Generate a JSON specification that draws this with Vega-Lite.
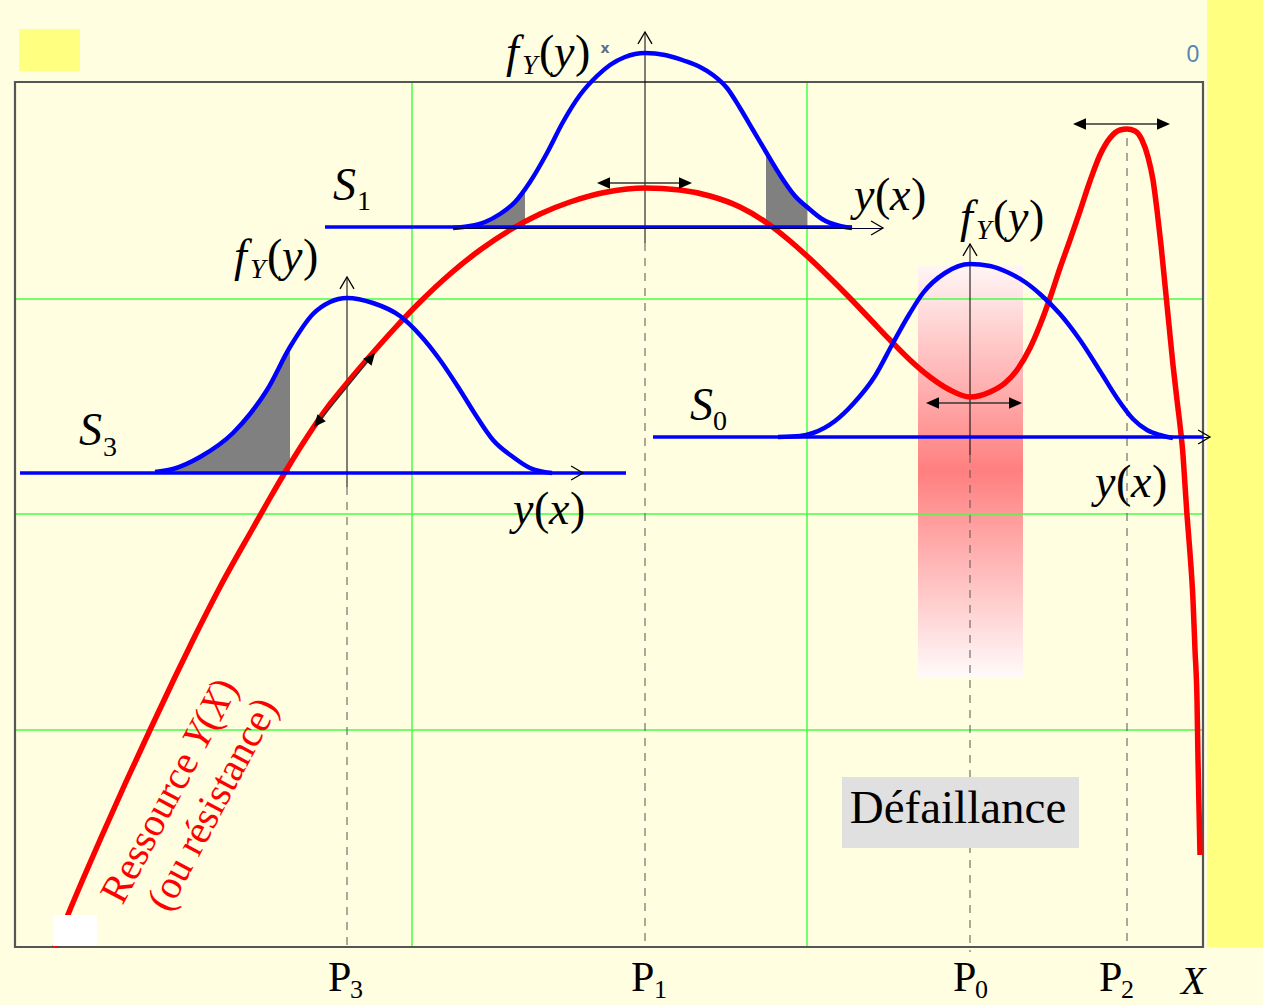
{
  "$schema": "https://vega.github.io/schema/vega-lite/v6.json",
  "width": 1263,
  "height": 1005,
  "padding": 0,
  "autosize": {"type": "none"},
  "background": "#FFFEE1",
  "config": {"view": {"stroke": null}},
  "datasets": {
    "boxes": [
      {"kind": "strip", "x": 1207, "x2": 1263, "y": 0, "y2": 947},
      {"kind": "swatch", "x": 19, "x2": 80, "y": 29, "y2": 71},
      {"kind": "risk", "x": 918, "x2": 1023, "y": 265, "y2": 677},
      {"kind": "frame", "x": 15, "x2": 1203, "y": 82, "y2": 947},
      {"kind": "blank", "x": 53, "x2": 97, "y": 915, "y2": 946},
      {"kind": "tag", "x": 842, "x2": 1079, "y": 777, "y2": 848}
    ],
    "rules": [
      {"kind": "grid", "x": 15, "x2": 1203, "y": 299, "y2": 299},
      {"kind": "grid", "x": 15, "x2": 1203, "y": 514, "y2": 514},
      {"kind": "grid", "x": 15, "x2": 1203, "y": 730, "y2": 730},
      {"kind": "grid", "x": 412, "x2": 412, "y": 82, "y2": 947},
      {"kind": "grid", "x": 807, "x2": 807, "y": 82, "y2": 947},
      {"kind": "guide", "x": 347, "x2": 347, "y": 487, "y2": 947},
      {"kind": "guide", "x": 645, "x2": 645, "y": 243, "y2": 947},
      {"kind": "guide", "x": 970, "x2": 970, "y": 455, "y2": 952},
      {"kind": "guide", "x": 1127, "x2": 1127, "y": 138, "y2": 947},
      {"kind": "axis", "x": 347, "x2": 347, "y": 277, "y2": 487},
      {"kind": "axis", "x": 645, "x2": 645, "y": 32, "y2": 243},
      {"kind": "axis", "x": 970, "x2": 970, "y": 244, "y2": 455},
      {"kind": "base", "x": 325, "x2": 852, "y": 227, "y2": 227},
      {"kind": "base", "x": 20, "x2": 626, "y": 473, "y2": 473},
      {"kind": "base", "x": 653, "x2": 1203, "y": 437, "y2": 437},
      {"kind": "yaxis", "x": 453, "x2": 883, "y": 228.5, "y2": 228.5},
      {"kind": "yaxis", "x": 778, "x2": 1210, "y": 437.5, "y2": 437.5},
      {"kind": "span", "x": 600, "x2": 689, "y": 183, "y2": 183},
      {"kind": "span", "x": 1076, "x2": 1167, "y": 124, "y2": 124},
      {"kind": "span", "x": 929, "x2": 1019, "y": 403, "y2": 403},
      {"kind": "span", "x": 316, "x2": 373, "y": 425, "y2": 355}
    ],
    "resource": [
      {"x": 55, "y": 947}, {"x": 67, "y": 917}, {"x": 83, "y": 879}, {"x": 100, "y": 840},
      {"x": 125, "y": 784}, {"x": 150, "y": 730}, {"x": 175, "y": 677}, {"x": 193, "y": 640},
      {"x": 220, "y": 587}, {"x": 253, "y": 528}, {"x": 270, "y": 498}, {"x": 287, "y": 469},
      {"x": 313, "y": 428}, {"x": 330, "y": 404}, {"x": 347, "y": 383}, {"x": 370, "y": 356},
      {"x": 395, "y": 328}, {"x": 420, "y": 302}, {"x": 450, "y": 274}, {"x": 480, "y": 250},
      {"x": 510, "y": 230}, {"x": 540, "y": 214}, {"x": 570, "y": 202}, {"x": 607, "y": 192},
      {"x": 645, "y": 188}, {"x": 680, "y": 190}, {"x": 710, "y": 196}, {"x": 740, "y": 207},
      {"x": 767, "y": 223}, {"x": 790, "y": 241}, {"x": 807, "y": 256}, {"x": 830, "y": 278},
      {"x": 847, "y": 295}, {"x": 870, "y": 319}, {"x": 890, "y": 340}, {"x": 910, "y": 360},
      {"x": 930, "y": 377}, {"x": 950, "y": 390}, {"x": 970, "y": 397}, {"x": 990, "y": 392},
      {"x": 1005, "y": 383}, {"x": 1017, "y": 370}, {"x": 1030, "y": 348}, {"x": 1040, "y": 325},
      {"x": 1050, "y": 298}, {"x": 1060, "y": 268}, {"x": 1070, "y": 240}, {"x": 1080, "y": 211},
      {"x": 1090, "y": 181}, {"x": 1100, "y": 155}, {"x": 1110, "y": 138}, {"x": 1120, "y": 130},
      {"x": 1127, "y": 129}, {"x": 1135, "y": 131}, {"x": 1142, "y": 140}, {"x": 1148, "y": 157},
      {"x": 1153, "y": 180}, {"x": 1157, "y": 210}, {"x": 1161, "y": 245}, {"x": 1165, "y": 285},
      {"x": 1169, "y": 325}, {"x": 1173, "y": 365}, {"x": 1177, "y": 400}, {"x": 1180, "y": 425},
      {"x": 1183, "y": 455}, {"x": 1185, "y": 485}, {"x": 1187, "y": 515}, {"x": 1190, "y": 553},
      {"x": 1193, "y": 600}, {"x": 1195, "y": 650}, {"x": 1197, "y": 700}, {"x": 1198, "y": 760},
      {"x": 1200, "y": 855}
    ],
    "densities": [
      {"id": "S1", "x": 453, "y": 228}, {"id": "S1", "x": 470, "y": 226}, {"id": "S1", "x": 485, "y": 222},
      {"id": "S1", "x": 500, "y": 214}, {"id": "S1", "x": 515, "y": 202}, {"id": "S1", "x": 530, "y": 182},
      {"id": "S1", "x": 547, "y": 153}, {"id": "S1", "x": 563, "y": 122}, {"id": "S1", "x": 580, "y": 95},
      {"id": "S1", "x": 597, "y": 76}, {"id": "S1", "x": 610, "y": 65}, {"id": "S1", "x": 625, "y": 57},
      {"id": "S1", "x": 645, "y": 53}, {"id": "S1", "x": 665, "y": 55}, {"id": "S1", "x": 685, "y": 61},
      {"id": "S1", "x": 700, "y": 67}, {"id": "S1", "x": 713, "y": 75}, {"id": "S1", "x": 727, "y": 88},
      {"id": "S1", "x": 740, "y": 108}, {"id": "S1", "x": 753, "y": 130}, {"id": "S1", "x": 766, "y": 152},
      {"id": "S1", "x": 780, "y": 175}, {"id": "S1", "x": 795, "y": 196}, {"id": "S1", "x": 807, "y": 207},
      {"id": "S1", "x": 822, "y": 219}, {"id": "S1", "x": 840, "y": 226}, {"id": "S1", "x": 852, "y": 228},
      {"id": "S3", "x": 155, "y": 472}, {"id": "S3", "x": 173, "y": 469}, {"id": "S3", "x": 200, "y": 457},
      {"id": "S3", "x": 233, "y": 433}, {"id": "S3", "x": 250, "y": 414}, {"id": "S3", "x": 267, "y": 390},
      {"id": "S3", "x": 290, "y": 347}, {"id": "S3", "x": 313, "y": 314}, {"id": "S3", "x": 330, "y": 302},
      {"id": "S3", "x": 347, "y": 298}, {"id": "S3", "x": 373, "y": 303}, {"id": "S3", "x": 400, "y": 316},
      {"id": "S3", "x": 420, "y": 335}, {"id": "S3", "x": 440, "y": 360}, {"id": "S3", "x": 460, "y": 390},
      {"id": "S3", "x": 475, "y": 414}, {"id": "S3", "x": 493, "y": 440}, {"id": "S3", "x": 513, "y": 457},
      {"id": "S3", "x": 530, "y": 468}, {"id": "S3", "x": 552, "y": 473},
      {"id": "S0", "x": 778, "y": 437}, {"id": "S0", "x": 800, "y": 436}, {"id": "S0", "x": 813, "y": 433},
      {"id": "S0", "x": 835, "y": 421}, {"id": "S0", "x": 853, "y": 404}, {"id": "S0", "x": 875, "y": 376},
      {"id": "S0", "x": 893, "y": 343}, {"id": "S0", "x": 910, "y": 313}, {"id": "S0", "x": 923, "y": 293},
      {"id": "S0", "x": 945, "y": 273}, {"id": "S0", "x": 970, "y": 264}, {"id": "S0", "x": 990, "y": 266},
      {"id": "S0", "x": 1007, "y": 272}, {"id": "S0", "x": 1025, "y": 282}, {"id": "S0", "x": 1040, "y": 294},
      {"id": "S0", "x": 1060, "y": 314}, {"id": "S0", "x": 1080, "y": 340}, {"id": "S0", "x": 1100, "y": 371},
      {"id": "S0", "x": 1117, "y": 398}, {"id": "S0", "x": 1133, "y": 419}, {"id": "S0", "x": 1147, "y": 430},
      {"id": "S0", "x": 1160, "y": 435}, {"id": "S0", "x": 1173, "y": 438}
    ],
    "tails": [
      {"id": "S1 bas", "x": 455, "y": 228, "y2": 227}, {"id": "S1 bas", "x": 470, "y": 226, "y2": 227},
      {"id": "S1 bas", "x": 485, "y": 222, "y2": 227}, {"id": "S1 bas", "x": 500, "y": 214, "y2": 227},
      {"id": "S1 bas", "x": 515, "y": 202, "y2": 227}, {"id": "S1 bas", "x": 525, "y": 189, "y2": 227},
      {"id": "S1 haut", "x": 766, "y": 152, "y2": 227}, {"id": "S1 haut", "x": 780, "y": 175, "y2": 227},
      {"id": "S1 haut", "x": 795, "y": 196, "y2": 227}, {"id": "S1 haut", "x": 807, "y": 207, "y2": 227},
      {"id": "S3 bas", "x": 157, "y": 472, "y2": 473}, {"id": "S3 bas", "x": 173, "y": 469, "y2": 473},
      {"id": "S3 bas", "x": 200, "y": 457, "y2": 473}, {"id": "S3 bas", "x": 233, "y": 433, "y2": 473},
      {"id": "S3 bas", "x": 250, "y": 414, "y2": 473}, {"id": "S3 bas", "x": 267, "y": 390, "y2": 473},
      {"id": "S3 bas", "x": 290, "y": 347, "y2": 473}
    ],
    "heads": [
      {"dir": "up", "x": 645, "y": 32}, {"dir": "up", "x": 347, "y": 277}, {"dir": "up", "x": 970, "y": 244},
      {"dir": "right", "x": 883, "y": 228}, {"dir": "right", "x": 583, "y": 473}, {"dir": "right", "x": 1210, "y": 437}
    ],
    "tips": [
      {"dir": "right", "x": 692, "y": 183}, {"dir": "left", "x": 597, "y": 183},
      {"dir": "right", "x": 1170, "y": 124}, {"dir": "left", "x": 1073, "y": 124},
      {"dir": "right", "x": 1022, "y": 403}, {"dir": "left", "x": 926, "y": 403},
      {"dir": "ne", "x": 375, "y": 353}, {"dir": "sw", "x": 314, "y": 427}
    ],
    "labels": [
      {"part": "var", "t": "f", "x": 506, "y": 67}, {"part": "sub", "t": "Y", "x": 522, "y": 74},
      {"part": "sym", "t": "(", "x": 539, "y": 67}, {"part": "var", "t": "y", "x": 554, "y": 67},
      {"part": "sym", "t": ")", "x": 575, "y": 67},
      {"part": "var", "t": "f", "x": 234, "y": 271}, {"part": "sub", "t": "Y", "x": 250, "y": 278},
      {"part": "sym", "t": "(", "x": 267, "y": 271}, {"part": "var", "t": "y", "x": 282, "y": 271},
      {"part": "sym", "t": ")", "x": 303, "y": 271},
      {"part": "var", "t": "f", "x": 960, "y": 232}, {"part": "sub", "t": "Y", "x": 976, "y": 239},
      {"part": "sym", "t": "(", "x": 993, "y": 232}, {"part": "var", "t": "y", "x": 1008, "y": 232},
      {"part": "sym", "t": ")", "x": 1029, "y": 232},
      {"part": "var", "t": "y", "x": 513, "y": 524}, {"part": "sym", "t": "(", "x": 534, "y": 524},
      {"part": "var", "t": "x", "x": 549, "y": 524}, {"part": "sym", "t": ")", "x": 570, "y": 524},
      {"part": "var", "t": "y", "x": 854, "y": 210}, {"part": "sym", "t": "(", "x": 875, "y": 210},
      {"part": "var", "t": "x", "x": 890, "y": 210}, {"part": "sym", "t": ")", "x": 911, "y": 210},
      {"part": "var", "t": "y", "x": 1095, "y": 497}, {"part": "sym", "t": "(", "x": 1116, "y": 497},
      {"part": "var", "t": "x", "x": 1131, "y": 497}, {"part": "sym", "t": ")", "x": 1152, "y": 497},
      {"part": "var", "t": "S", "x": 333, "y": 200}, {"part": "idx", "t": "1", "x": 357, "y": 210},
      {"part": "var", "t": "S", "x": 79, "y": 445}, {"part": "idx", "t": "3", "x": 103, "y": 456},
      {"part": "var", "t": "S", "x": 690, "y": 420}, {"part": "idx", "t": "0", "x": 713, "y": 430},
      {"part": "tick", "t": "P", "x": 328, "y": 991}, {"part": "tickidx", "t": "3", "x": 350, "y": 998},
      {"part": "tick", "t": "P", "x": 631, "y": 991}, {"part": "tickidx", "t": "1", "x": 654, "y": 998},
      {"part": "tick", "t": "P", "x": 953, "y": 991}, {"part": "tickidx", "t": "0", "x": 975, "y": 998},
      {"part": "tick", "t": "P", "x": 1099, "y": 991}, {"part": "tickidx", "t": "2", "x": 1121, "y": 998},
      {"part": "tickvar", "t": "X", "x": 1181, "y": 994}
    ],
    "curveName": [
      {"part": "rm", "t": "Ressource", "x": 122.4, "y": 906},
      {"part": "it", "t": "Y", "x": 204.3, "y": 752},
      {"part": "rm", "t": "(", "x": 214.7, "y": 732.4},
      {"part": "it", "t": "X", "x": 220.9, "y": 720.7},
      {"part": "rm", "t": ")", "x": 232.4, "y": 699.1},
      {"part": "rm", "t": "(ou résistance)", "x": 168.7, "y": 913.6}
    ],
    "notes": [
      {"part": "zone", "t": "Défaillance", "x": 958, "y": 823},
      {"part": "mark", "t": "x", "x": 605, "y": 53},
      {"part": "count", "t": "0", "x": 1193, "y": 62}
    ]
  },
  "encoding": {
    "x": {"field": "x", "type": "quantitative", "scale": {"domain": [0, 1263], "nice": false, "zero": false}, "axis": null},
    "y": {"field": "y", "type": "quantitative", "scale": {"domain": [0, 1005], "nice": false, "zero": false, "reverse": true}, "axis": null}
  },
  "layer": [
    {
      "data": {"name": "boxes"},
      "transform": [{"filter": "datum.kind === 'strip' || datum.kind === 'swatch'"}],
      "mark": {"type": "rect", "fill": "#FFFF80"},
      "encoding": {"x2": {"field": "x2"}, "y2": {"field": "y2"}}
    },
    {
      "data": {"name": "boxes"},
      "transform": [{"filter": "datum.kind === 'risk'"}],
      "mark": {
        "type": "rect",
        "fill": {
          "gradient": "linear", "x1": 0, "y1": 0, "x2": 0, "y2": 1,
          "stops": [
            {"offset": 0, "color": "#FFF6F6"},
            {"offset": 0.5, "color": "#FF7F7F"},
            {"offset": 1, "color": "#FFFAFA"}
          ]
        }
      },
      "encoding": {"x2": {"field": "x2"}, "y2": {"field": "y2"}}
    },
    {
      "data": {"name": "rules"},
      "transform": [{"filter": "datum.kind === 'grid'"}],
      "mark": {"type": "rule", "color": "#44FF44", "strokeWidth": 1.5},
      "encoding": {"x2": {"field": "x2"}, "y2": {"field": "y2"}}
    },
    {
      "data": {"name": "boxes"},
      "transform": [{"filter": "datum.kind === 'frame'"}],
      "mark": {"type": "rect", "fill": null, "fillOpacity": 0, "stroke": "#555555", "strokeWidth": 2.2},
      "encoding": {"x2": {"field": "x2"}, "y2": {"field": "y2"}}
    },
    {
      "data": {"name": "rules"},
      "transform": [{"filter": "datum.kind === 'guide'"}],
      "mark": {"type": "rule", "color": "#555555", "strokeWidth": 1, "strokeDash": [8, 7]},
      "encoding": {"x2": {"field": "x2"}, "y2": {"field": "y2"}}
    },
    {
      "data": {"name": "rules"},
      "transform": [{"filter": "datum.kind === 'axis'"}],
      "mark": {"type": "rule", "color": "#000000", "strokeWidth": 1},
      "encoding": {"x2": {"field": "x2"}, "y2": {"field": "y2"}}
    },
    {
      "data": {"name": "tails"},
      "mark": {"type": "area", "fill": "#808080", "opacity": 1, "interpolate": "monotone"},
      "encoding": {"y2": {"field": "y2"}, "detail": {"field": "id"}}
    },
    {
      "data": {"name": "resource"},
      "mark": {"type": "line", "color": "#FF0000", "strokeWidth": 5.5, "interpolate": "monotone"},
      "encoding": {}
    },
    {
      "data": {"name": "rules"},
      "transform": [{"filter": "datum.kind === 'base'"}],
      "mark": {"type": "rule", "color": "#0000FF", "strokeWidth": 3.5},
      "encoding": {"x2": {"field": "x2"}, "y2": {"field": "y2"}}
    },
    {
      "data": {"name": "densities"},
      "mark": {"type": "line", "color": "#0000FF", "strokeWidth": 4.5, "interpolate": "monotone"},
      "encoding": {"detail": {"field": "id"}}
    },
    {
      "data": {"name": "rules"},
      "transform": [{"filter": "datum.kind === 'yaxis'"}],
      "mark": {"type": "rule", "color": "#000033", "strokeWidth": 1},
      "encoding": {"x2": {"field": "x2"}, "y2": {"field": "y2"}}
    },
    {
      "data": {"name": "boxes"},
      "transform": [{"filter": "datum.kind === 'blank'"}],
      "mark": {"type": "rect", "fill": "#FFFFFF"},
      "encoding": {"x2": {"field": "x2"}, "y2": {"field": "y2"}}
    },
    {
      "data": {"name": "boxes"},
      "transform": [{"filter": "datum.kind === 'tag'"}],
      "mark": {"type": "rect", "fill": "#E0E0E0"},
      "encoding": {"x2": {"field": "x2"}, "y2": {"field": "y2"}}
    },
    {
      "data": {"name": "rules"},
      "transform": [{"filter": "datum.kind === 'span'"}],
      "mark": {"type": "rule", "color": "#333333", "strokeWidth": 1.3},
      "encoding": {"x2": {"field": "x2"}, "y2": {"field": "y2"}}
    },
    {
      "data": {"name": "heads"},
      "transform": [{"filter": "datum.dir === 'right'"}],
      "mark": {"type": "point", "shape": "M-1.7,-1L0,0L-1.7,1", "size": 196, "filled": false, "stroke": "#000000", "strokeWidth": 1.3, "opacity": 1, "angle": 0}
    },
    {
      "data": {"name": "heads"},
      "transform": [{"filter": "datum.dir === 'up'"}],
      "mark": {"type": "point", "shape": "M-1.7,-1L0,0L-1.7,1", "size": 196, "filled": false, "stroke": "#000000", "strokeWidth": 1.3, "opacity": 1, "angle": 270}
    },
    {
      "data": {"name": "tips"},
      "transform": [{"filter": "datum.dir === 'right'"}],
      "mark": {"type": "point", "shape": "M0,0L-2,-0.9L-2,0.9Z", "size": 169, "filled": true, "fill": "#000000", "strokeWidth": 0, "opacity": 1, "angle": 0}
    },
    {
      "data": {"name": "tips"},
      "transform": [{"filter": "datum.dir === 'left'"}],
      "mark": {"type": "point", "shape": "M0,0L-2,-0.9L-2,0.9Z", "size": 169, "filled": true, "fill": "#000000", "strokeWidth": 0, "opacity": 1, "angle": 180}
    },
    {
      "data": {"name": "tips"},
      "transform": [{"filter": "datum.dir === 'ne'"}],
      "mark": {"type": "point", "shape": "M0,0L-2,-0.9L-2,0.9Z", "size": 144, "filled": true, "fill": "#000000", "strokeWidth": 0, "opacity": 1, "angle": 309.5}
    },
    {
      "data": {"name": "tips"},
      "transform": [{"filter": "datum.dir === 'sw'"}],
      "mark": {"type": "point", "shape": "M0,0L-2,-0.9L-2,0.9Z", "size": 144, "filled": true, "fill": "#000000", "strokeWidth": 0, "opacity": 1, "angle": 129.5}
    },
    {
      "data": {"name": "labels"},
      "transform": [{"filter": "datum.part === 'var'"}],
      "mark": {"type": "text", "font": "Liberation Serif", "fontStyle": "italic", "fontSize": 46, "align": "left", "baseline": "alphabetic", "color": "#000000"},
      "encoding": {"text": {"field": "t"}}
    },
    {
      "data": {"name": "labels"},
      "transform": [{"filter": "datum.part === 'sym'"}],
      "mark": {"type": "text", "font": "Liberation Serif", "fontSize": 46, "align": "left", "baseline": "alphabetic", "color": "#000000"},
      "encoding": {"text": {"field": "t"}}
    },
    {
      "data": {"name": "labels"},
      "transform": [{"filter": "datum.part === 'sub'"}],
      "mark": {"type": "text", "font": "Liberation Serif", "fontStyle": "italic", "fontSize": 28, "align": "left", "baseline": "alphabetic", "color": "#000000"},
      "encoding": {"text": {"field": "t"}}
    },
    {
      "data": {"name": "labels"},
      "transform": [{"filter": "datum.part === 'idx'"}],
      "mark": {"type": "text", "font": "Liberation Serif", "fontSize": 28, "align": "left", "baseline": "alphabetic", "color": "#000000"},
      "encoding": {"text": {"field": "t"}}
    },
    {
      "data": {"name": "labels"},
      "transform": [{"filter": "datum.part === 'tickidx'"}],
      "mark": {"type": "text", "font": "Liberation Serif", "fontSize": 26, "align": "left", "baseline": "alphabetic", "color": "#000000"},
      "encoding": {"text": {"field": "t"}}
    },
    {
      "data": {"name": "labels"},
      "transform": [{"filter": "datum.part === 'tick'"}],
      "mark": {"type": "text", "font": "Liberation Serif", "fontSize": 42, "align": "left", "baseline": "alphabetic", "color": "#000000"},
      "encoding": {"text": {"field": "t"}}
    },
    {
      "data": {"name": "labels"},
      "transform": [{"filter": "datum.part === 'tickvar'"}],
      "mark": {"type": "text", "font": "Liberation Serif", "fontStyle": "italic", "fontSize": 40, "align": "left", "baseline": "alphabetic", "color": "#000000"},
      "encoding": {"text": {"field": "t"}}
    },
    {
      "data": {"name": "curveName"},
      "transform": [{"filter": "datum.part === 'rm'"}],
      "mark": {"type": "text", "font": "Liberation Serif", "fontSize": 40, "align": "left", "baseline": "alphabetic", "angle": 298, "color": "#FF0000"},
      "encoding": {"text": {"field": "t"}}
    },
    {
      "data": {"name": "curveName"},
      "transform": [{"filter": "datum.part === 'it'"}],
      "mark": {"type": "text", "font": "Liberation Serif", "fontStyle": "italic", "fontSize": 40, "align": "left", "baseline": "alphabetic", "angle": 298, "color": "#FF0000"},
      "encoding": {"text": {"field": "t"}}
    },
    {
      "data": {"name": "notes"},
      "transform": [{"filter": "datum.part === 'zone'"}],
      "mark": {"type": "text", "font": "Liberation Serif", "fontSize": 47, "align": "center", "baseline": "alphabetic", "color": "#000000"},
      "encoding": {"text": {"field": "t"}}
    },
    {
      "data": {"name": "notes"},
      "transform": [{"filter": "datum.part === 'mark'"}],
      "mark": {"type": "text", "font": "DejaVu Sans", "fontSize": 14, "fontWeight": "bold", "align": "center", "baseline": "alphabetic", "color": "#5A6F88"},
      "encoding": {"text": {"field": "t"}}
    },
    {
      "data": {"name": "notes"},
      "transform": [{"filter": "datum.part === 'count'"}],
      "mark": {"type": "text", "font": "Liberation Sans", "fontSize": 23, "align": "center", "baseline": "alphabetic", "color": "#5B84B1"},
      "encoding": {"text": {"field": "t"}}
    }
  ]
}
